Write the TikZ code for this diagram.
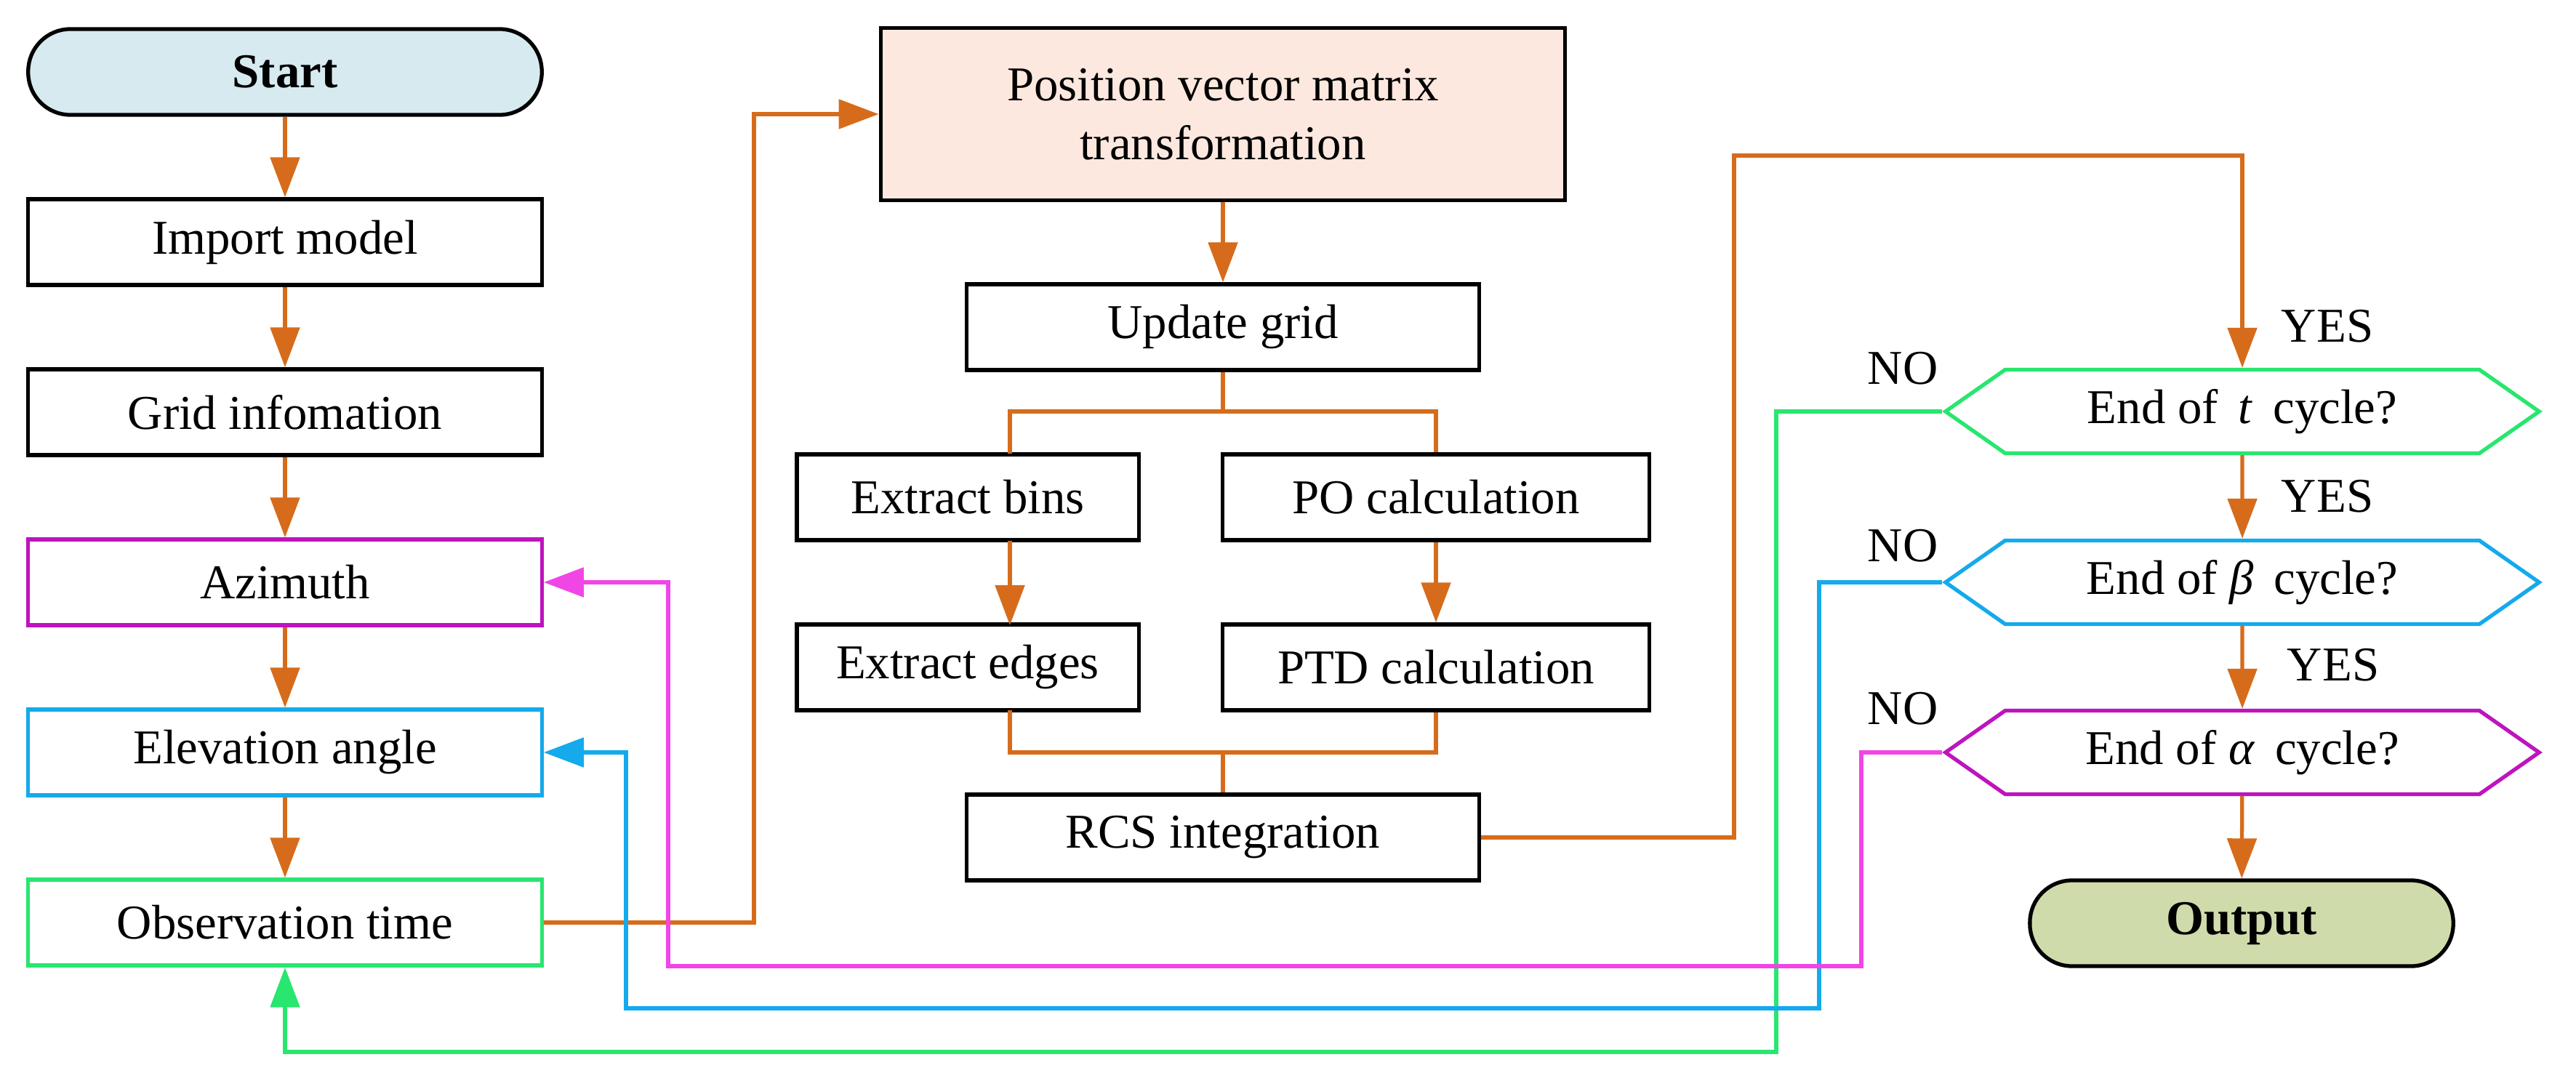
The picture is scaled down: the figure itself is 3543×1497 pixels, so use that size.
\documentclass[tikz,border=0pt]{standalone}
\usepackage{fontspec}
\setmainfont{Liberation Serif}
\usetikzlibrary{arrows.meta,shapes.symbols}
\definecolor{flow}{RGB}{214,108,27}
\definecolor{tcol}{RGB}{40,230,110}
\definecolor{bcol}{RGB}{20,170,235}
\definecolor{acol}{RGB}{190,20,190}
\definecolor{aline}{RGB}{240,70,230}
\definecolor{startfill}{RGB}{214,234,240}
\definecolor{outfill}{RGB}{207,219,170}
\definecolor{posfill}{RGB}{252,232,222}
\begin{document}
\begin{tikzpicture}[x=0.01cm,y=-0.01cm,
    font=\fontsize{19}{23}\selectfont,
    box/.style={rectangle, draw, line width=1.5pt, minimum height=1.18cm, inner sep=0pt, align=center},
    term/.style={box, rounded corners=0.58cm, font=\fontsize{19}{23}\selectfont\bfseries},
    hex/.style={signal, signal to=west and east, signal pointer angle=70, draw, line width=1.5pt,
                minimum width=8.16cm, minimum height=1.15cm, inner sep=0pt},
    arr/.style={-{Triangle[length=5.5mm,width=4mm]}, line width=1.5pt, flow},
    line/.style={line width=1.5pt, flow},
    lbl/.style={inner sep=0pt}
]
\useasboundingbox (0,0) rectangle (3543,1497);

% left column
\node[term, fill=startfill, minimum width=7.06cm] (start) at (392,99) {Start};
\node[box, minimum width=7.06cm] (import) at (392,333) {Import model};
\node[box, minimum width=7.06cm] (grid) at (392,567) {Grid infomation};
\node[box, draw=acol, minimum width=7.06cm] (azi) at (392,801) {Azimuth};
\node[box, draw=bcol, minimum width=7.06cm] (elev) at (392,1035) {Elevation angle};
\node[box, draw=tcol, minimum width=7.06cm] (obs) at (392,1269) {Observation time};

% middle column
\node[box, fill=posfill, minimum width=9.41cm, minimum height=2.37cm] (pos) at (1682,157) {Position vector matrix\\transformation};
\node[box, minimum width=7.05cm] (upd) at (1682,450) {Update grid};
\node[box, minimum width=4.7cm] (bins) at (1331,684) {Extract bins};
\node[box, minimum width=5.87cm] (po) at (1975,684) {PO calculation};
\node[box, minimum width=4.7cm] (edges) at (1331,918) {Extract edges};
\node[box, minimum width=5.87cm] (ptd) at (1975,918) {PTD calculation};
\node[box, minimum width=7.05cm] (rcs) at (1682,1152) {RCS integration};

% right column
\node[hex, draw=tcol] (tc) at (3084,566) {End of \,\textit{t}\, cycle?};
\node[hex, draw=bcol] (bc) at (3084,801) {End of \textit{β}\, cycle?};
\node[hex, draw=acol] (ac) at (3084,1035) {End of \textit{α}\, cycle?};
\node[term, fill=outfill, minimum width=5.82cm] (out) at (3083,1270) {Output};

\node[lbl] (y1) at (3201,449) {YES};
\node[lbl] (y2) at (3201,683) {YES};
\node[lbl] (y3) at (3209,915) {YES};
\node[lbl] (n1) at (2617,507) {NO};
\node[lbl] (n2) at (2617,751) {NO};
\node[lbl] (n3) at (2617,975) {NO};

% main flow
\draw[arr] (start) -- (import);
\draw[arr] (import) -- (grid);
\draw[arr] (grid) -- (azi);
\draw[arr] (azi) -- (elev);
\draw[arr] (elev) -- (obs);
\draw[arr] (obs.east) -- (1037,1269) -- (1037,157) -- (pos.west);
\draw[arr] (pos) -- (upd);
\draw[line] (upd.south) -- (1682,566) -| (1389,624);
\draw[line] (1682,566) -| (po.north);
\draw[arr] (1389,744) -- (1389,860);
\draw[arr] (po) -- (ptd);
\draw[line] (1389,977) -- (1389,1035) -| (rcs.north);
\draw[line] (ptd.south) |- (1682,1035);
\draw[arr] (rcs.east) -- (2385,1152) -- (2385,214) -| (tc.north);
\draw[arr] (tc) -- (bc);
\draw[arr] (bc) -- (ac);
\draw[arr] (ac) -- (out);

% feedback loops
\draw[line, tcol, -{Triangle[length=5.5mm,width=4mm]}] (tc.west) -- (2443,566) -- (2443,1447) -| (obs.south);
\draw[line, bcol, -{Triangle[length=5.5mm,width=4mm]}] (bc.west) -- (2502,801) -- (2502,1387) -- (861,1387) |- (elev.east);
\draw[line, aline, -{Triangle[length=5.5mm,width=4mm]}] (ac.west) -- (2560,1035) -- (2560,1329) -- (919,1329) |- (azi.east);
\end{tikzpicture}
\end{document}
